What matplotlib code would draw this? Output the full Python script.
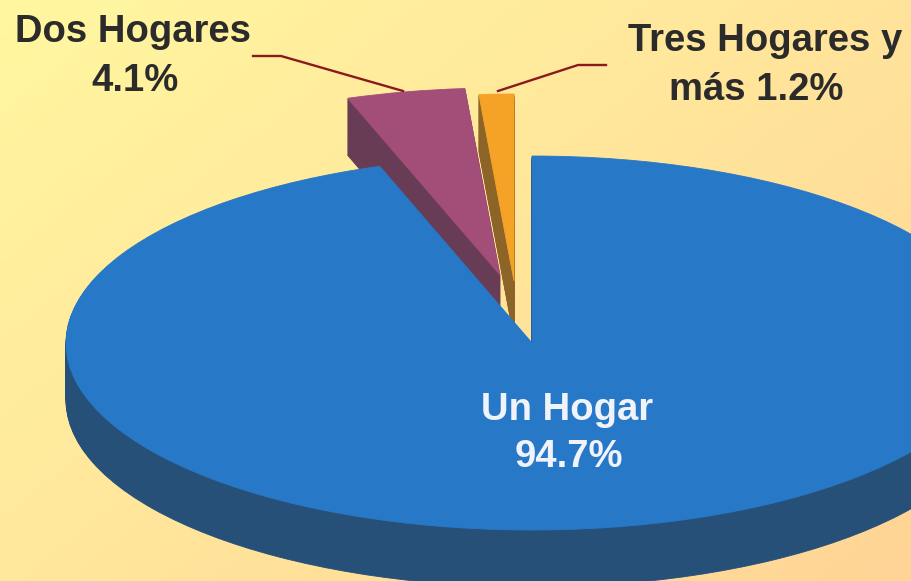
import matplotlib
matplotlib.use("Agg")
import matplotlib.pyplot as plt
import numpy as np

categories = ["Un Hogar", "Dos Hogares", "Tres Hogares y más"]
values = [94.7, 4.1, 1.2]

W, H = 911, 581
CX, CY = 532, 343      # centre of the big slice, pixels
RX, RY = 466, 187      # ellipse radii of the tilted pie, pixels
DEPTH = 57

top_colors = ["#2878C8", "#A34E78", "#F5A327"]
side_colors = ["#275078", "#683C55", "#8C6427"]
# how far each slice is pulled out of the pie, pixels
pull_x = [0, -32, -18]
pull_y = [0, 68, 62]

fig = plt.figure(figsize=(W / 100, H / 100), dpi=100)

# background gradient, top left to bottom right
bg = fig.add_axes([0, 0, 1, 1])
xx, yy = np.meshgrid(np.linspace(0, 1, 256), np.linspace(0, 1, 256))
t = ((xx + yy * 0.8) / 1.8)[..., None]
c1 = np.array([255, 247, 160]) / 255
c2 = np.array([255, 212, 150]) / 255
bg.imshow(c1 + (c2 - c1) * t, aspect="auto", extent=(0, 1, 1, 0))
bg.axis("off")

ax = fig.add_axes([0, 0, 1, 1])
ax.patch.set_visible(False)


def draw_layer(drop, colors, small_z, main_z):
  wedges, _ = ax.pie(values, startangle=90, counterclock=False, colors=colors,
                     center=(0, -drop / RY), radius=1,
                     wedgeprops=dict(linewidth=0.6, edgecolor="none"))
  for i, w in enumerate(wedges):
    w.set_edgecolor(colors[i])
    w.set_center((w.center[0] + pull_x[i] / RX, w.center[1] + pull_y[i] / RY))
    w.set_zorder(main_z if i == 0 else small_z)


for drop in range(DEPTH, 0, -1):
  draw_layer(drop, side_colors, 1, 3)
draw_layer(0, top_colors, 2, 4)

ax.set_aspect("auto")
ax.set_xlim((0 - CX) / RX, (W - CX) / RX)
ax.set_ylim((CY - H) / RY, CY / RY)

# labels and leader lines live in pixel coordinates
top = fig.add_axes([0, 0, 1, 1])
top.patch.set_visible(False)
top.set_xlim(0, W)
top.set_ylim(H, 0)
top.axis("off")

top.plot([253, 281, 403], [56, 56, 91], color="#8B1A1F", lw=1.7)
top.plot([606, 578, 498], [65, 65, 91], color="#8B1A1F", lw=1.7)

font = dict(family=["Liberation Sans", "DejaVu Sans"], fontweight="bold",
            fontsize=27.5, ha="center", va="baseline")
dark = "#2B2B2B"
top.text(133, 42, "Dos Hogares", color=dark, **font)
top.text(135, 91, "4.1%", color=dark, **font)
top.text(765, 51, "Tres Hogares y", color=dark, **font)
top.text(756, 100, "más 1.2%", color=dark, **font)
top.text(567, 420, "Un Hogar", color="#F0F4FA", **font)
top.text(569, 467, "94.7%", color="#F0F4FA", **font)

fig.savefig("out.png", dpi=100)
